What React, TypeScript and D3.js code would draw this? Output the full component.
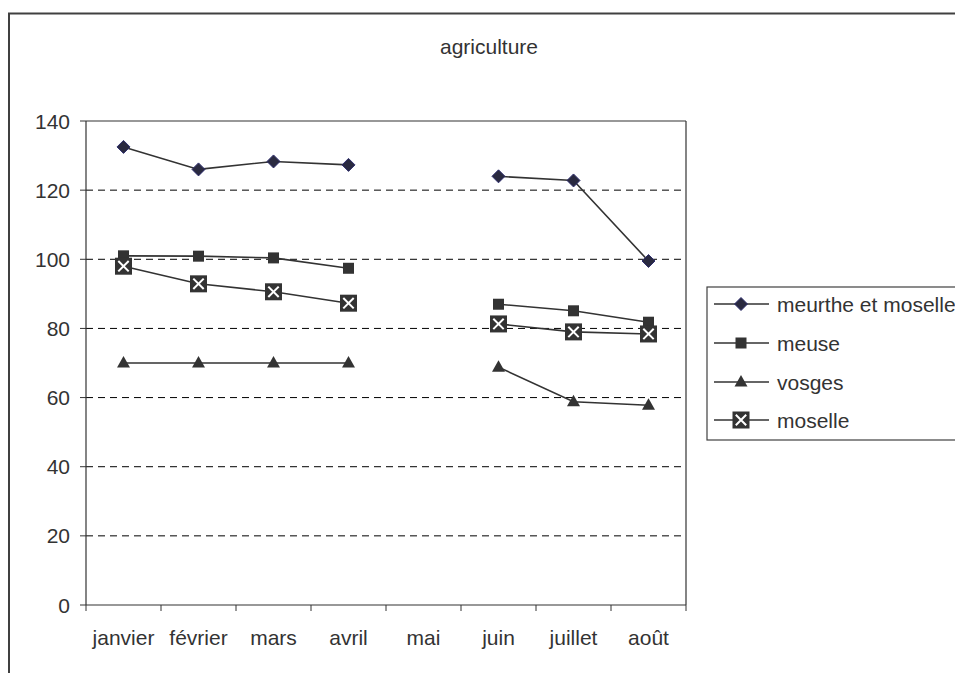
import React from "react";
import * as d3 from "d3";

// months on the x axis, mai has no values
const months = ["janvier", "février", "mars", "avril", "mai", "juin", "juillet", "août"];

const meurtheEtMoselle = [132.5, 126, 128.3, 127.3, null, 124, 122.8, 99.5];
const meuse = [101, 100.9, 100.4, 97.4, null, 87, 85.1, 81.8];
const vosges = [70, 70, 70, 70, null, 68.8, 58.8, 57.8];
const moselle = [98, 92.9, 90.6, 87.3, null, 81.3, 79, 78.4];

const seriesNames = ["meurthe et moselle", "meuse", "vosges", "moselle"];
const yTicks = [0, 20, 40, 60, 80, 100, 120, 140];

const FONT = "'Liberation Sans', Arial, sans-serif";
const INK = "#333333";

type Kind = "diamond" | "square" | "triangle" | "xbox";

const Marker = ({ kind, x, y }: { kind: Kind; x: number; y: number }) => {
    if (kind === "diamond") {
        const r = 6.5;
        return (
            <path
                d={`M${x},${y - r}L${x + r},${y}L${x},${y + r}L${x - r},${y}Z`}
                fill="#2a2a40"
                stroke="#2e2e6e"
                strokeWidth={1}
            />
        );
    }
    if (kind === "square") {
        const s = 11;
        return <rect x={x - s / 2} y={y - s / 2} width={s} height={s} fill={INK} />;
    }
    if (kind === "triangle") {
        const w = 13;
        const h = 11.5;
        return (
            <path
                d={`M${x},${y - h * 0.6}L${x + w / 2},${y + h * 0.4}L${x - w / 2},${y + h * 0.4}Z`}
                fill={INK}
            />
        );
    }
    const s = 17;
    const a = 5.2;
    return (
        <g>
            <rect x={x - s / 2} y={y - s / 2} width={s} height={s} fill={INK} />
            <path
                d={`M${x - a},${y - a}L${x + a},${y + a}M${x + a},${y - a}L${x - a},${y + a}`}
                stroke="#ffffff"
                strokeWidth={2}
            />
        </g>
    );
};

export default function App() {
    const width = 955;
    const height = 673;
    const left = 86;
    const right = 686;
    const top = 121;
    const bottom = 605;

    const x = d3.scaleBand<string>().domain(months).range([left, right]);
    const y = d3.scaleLinear().domain([0, 140]).range([bottom, top]);

    const series: { name: string; values: (number | null)[]; kind: Kind }[] = [
        { name: seriesNames[0], values: meurtheEtMoselle, kind: "diamond" },
        { name: seriesNames[1], values: meuse, kind: "square" },
        { name: seriesNames[2], values: vosges, kind: "triangle" },
        { name: seriesNames[3], values: moselle, kind: "xbox" },
    ];

    const cx = (m: string) => (x(m) as number) + x.bandwidth() / 2;

    const lineGen = d3
        .line<number | null>()
        .defined((d) => d !== null)
        .x((_, i) => cx(months[i]))
        .y((d) => y(d as number));

    const legendY = [304, 343, 382, 420];

    return (
        <svg
            width={width}
            height={height}
            style={{ position: "absolute", left: 0, top: 0, background: "#fff" }}
            fontFamily={FONT}
        >
            {/* outer chart frame, runs off the right and bottom */}
            <rect x={9} y={13.5} width={1000} height={700} fill="none" stroke="#404040" strokeWidth={2} />

            <text x={489} y={54} textAnchor="middle" fontSize={21} fill={INK}>
                agriculture
            </text>

            {/* gridlines */}
            {yTicks
                .filter((t) => t > 0 && t < 140)
                .map((t) => (
                    <line
                        key={t}
                        x1={left}
                        x2={right}
                        y1={y(t)}
                        y2={y(t)}
                        stroke="#000"
                        strokeWidth={1}
                        strokeDasharray="7,5"
                    />
                ))}

            {/* plot frame */}
            <line x1={left} x2={right} y1={top} y2={top} stroke="#333" strokeWidth={1.2} />
            <line x1={right} x2={right} y1={top} y2={bottom} stroke="#333" strokeWidth={1.2} />
            <line x1={left} x2={left} y1={top} y2={bottom} stroke="#333" strokeWidth={1.2} />
            <line x1={left} x2={right} y1={bottom} y2={bottom} stroke="#333" strokeWidth={1.2} />

            {/* y axis */}
            {yTicks.map((t) => (
                <g key={t}>
                    <line x1={left - 6} x2={left} y1={y(t)} y2={y(t)} stroke="#333" strokeWidth={1} />
                    <text x={70} y={y(t) + 7.5} textAnchor="end" fontSize={21} fill={INK}>
                        {t}
                    </text>
                </g>
            ))}

            {/* x axis */}
            {months.map((m) => (
                <line
                    key={"t" + m}
                    x1={x(m)}
                    x2={x(m)}
                    y1={bottom}
                    y2={bottom + 6}
                    stroke="#333"
                    strokeWidth={1}
                />
            ))}
            <line x1={right} x2={right} y1={bottom} y2={bottom + 6} stroke="#333" strokeWidth={1} />
            {months.map((m) => (
                <text key={m} x={cx(m)} y={645} textAnchor="middle" fontSize={21} fill={INK}>
                    {m}
                </text>
            ))}

            {/* series */}
            {series.map((s) => (
                <g key={s.name}>
                    <path d={lineGen(s.values) || ""} fill="none" stroke={INK} strokeWidth={1.6} />
                    {s.values.map((v, i) =>
                        v === null ? null : <Marker key={i} kind={s.kind} x={cx(months[i])} y={y(v)} />
                    )}
                </g>
            ))}

            {/* legend */}
            <rect x={707} y={287} width={300} height={153} fill="#fff" stroke="#404040" strokeWidth={1.2} />
            {series.map((s, i) => (
                <g key={"lg" + s.name}>
                    <line x1={714} x2={769} y1={legendY[i]} y2={legendY[i]} stroke={INK} strokeWidth={1.6} />
                    <Marker kind={s.kind} x={741} y={legendY[i]} />
                    <text x={777} y={legendY[i] + 7.5} fontSize={21} fill={INK}>
                        {s.name}
                    </text>
                </g>
            ))}
        </svg>
    );
}
